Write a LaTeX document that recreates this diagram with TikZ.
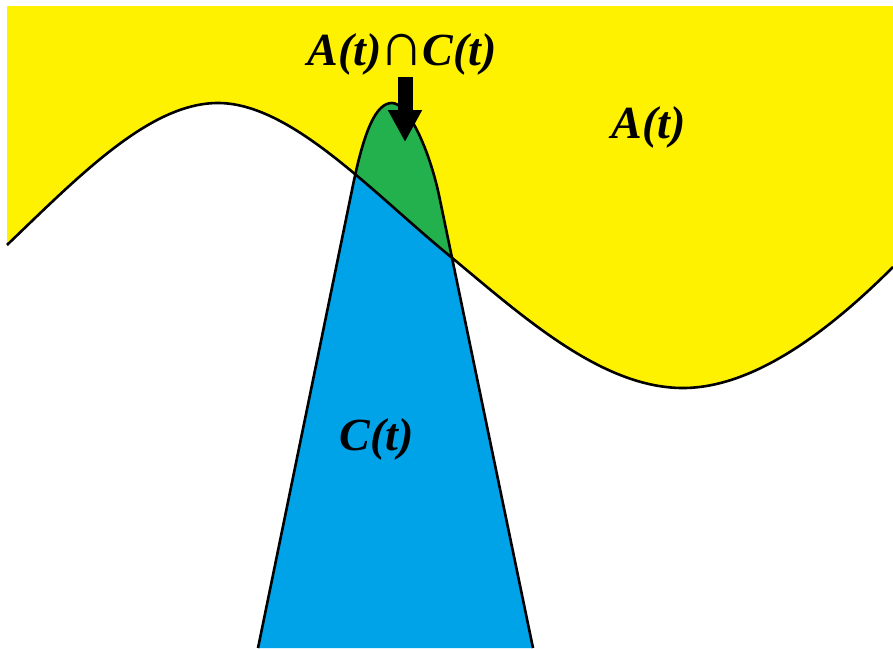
\documentclass[tikz,border=0pt]{standalone}
\usepackage{fontspec}
\setmainfont{Liberation Serif}
\usetikzlibrary{arrows.meta}

\definecolor{setyellow}{RGB}{255,242,0}
\definecolor{setblue}{RGB}{0,162,232}
\definecolor{setgreen}{RGB}{34,177,76}

% boundary curve of A(t), left to right
\newcommand{\acurve}{(7,245) .. controls (80,175) and (150,103) .. (218,103)
  .. controls (290,103) and (370,190) .. (445,252)
  .. controls (520,314) and (600,388) .. (683,388)
  .. controls (760,388) and (840,320) .. (893,267)}
% outline of C(t)
\newcommand{\ccurve}{(258,648) -- (352,190) .. controls (364,130) and (376,103) .. (392,103)
  .. controls (408,103) and (430,150) .. (440,200) -- (533,648)}

\begin{document}
\begin{tikzpicture}[x=1pt,y=-1pt,
    outline/.style={line width=2.6pt,black},
    setlabel/.style={font=\fontsize{46}{52}\selectfont\bfseries\itshape,inner sep=0pt,anchor=base}]
    \useasboundingbox (0,0) rectangle (893,648);

    % the set A(t)
    \fill[setyellow] \acurve -- (893,6) -- (7,6) -- cycle;

    % the set C(t)
    \fill[setblue] \ccurve -- cycle;

    % overlap A(t) and C(t)
    \begin{scope}
        \clip \acurve -- (893,6) -- (7,6) -- cycle;
        \fill[setgreen] \ccurve -- cycle;
    \end{scope}

    % outlines
    \draw[outline] \acurve;
    \draw[outline] \ccurve;

    % labels
    \node[setlabel] (capAC) at (402,65) {A(t)\kern-2pt{\fontsize{62}{64}\fontseries{m}\fontshape{n}\selectfont ∩}\kern-2pt C(t)};
    \node[setlabel] (labA) at (649,138) {A(t)};
    \node[setlabel] (labC) at (377,450) {C(t)};

    % arrow to the overlap
    \coordinate (arrtop) at (405,77);
    \coordinate (arrtip) at (405,142);
    \draw[line width=15pt,-{Triangle[length=32pt,width=32pt]}] (arrtop) -- (arrtip);
\end{tikzpicture}
\end{document}
